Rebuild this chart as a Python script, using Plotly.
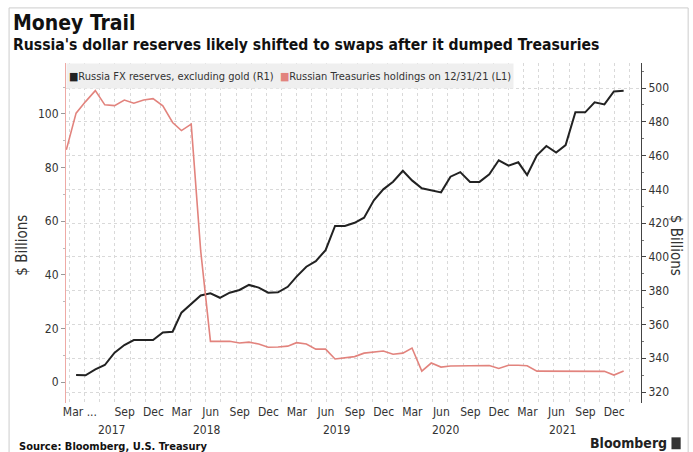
import pandas as pd
import plotly.graph_objects as go

# ---------------- data ----------------
# Russia FX reserves excluding gold, $bn (right axis, R1), monthly Mar 2017 - Dec 2021
fx_start = "2017-03-01"
fx_reserves = [
    330.1, 329.9, 333.4, 336.0, 343.3, 347.8, 350.8, 350.8, 350.8, 355.3,   # Mar-Dec 2017
    355.7, 367.0, 371.9, 377.2, 378.4, 375.8, 378.8, 380.4, 383.4, 381.8, 378.8, 379.0,  # 2018
    382.3, 388.3, 394.2, 397.5, 404.0, 418.3, 418.3, 420.2, 423.2, 433.5, 440.0, 444.5,  # 2019
    451.0, 445.3, 440.6, 439.4, 438.2, 447.5, 450.2, 444.4, 444.4, 448.9, 457.2, 454.0,  # 2020
    456.0, 448.5, 460.1, 465.7, 461.8, 466.2, 485.6, 485.6, 491.5, 490.3, 498.0, 498.3,  # 2021
]

# Russian holdings of US Treasuries, $bn (left axis, L1), monthly Feb 2017 - Dec 2021
ust_start = "2017-02-01"
ust_holdings = [
    86.6, 100.3, 104.6, 108.7, 103.4, 103.1, 105.2, 104.0, 105.2, 105.7, 103.0,  # Feb-Dec 2017
    96.8, 93.8, 96.2, 49.0, 15.2, 15.2, 15.2, 14.6, 14.9, 14.2, 13.0, 13.1,       # 2018
    13.4, 14.7, 14.2, 12.3, 12.3, 8.6, 9.0, 9.5, 10.8, 11.2, 11.6, 10.4,          # 2019
    10.8, 12.7, 4.1, 7.1, 5.6, 6.0, 6.0, 6.0, 6.1, 6.2, 5.1, 6.3,                 # 2020
    6.3, 6.1, 4.1, 4.1, 4.1, 4.1, 4.1, 4.1, 4.1, 4.0, 2.6, 4.1,                   # 2021
]

fx_name = "Russia FX reserves, excluding gold (R1)"
ust_name = "Russian Treasuries holdings on 12/31/21 (L1)"

tick_vals = ["2017-04-12", "2017-09-01", "2017-12-01", "2018-03-01", "2018-06-01",
             "2018-09-01", "2018-12-01", "2019-03-01", "2019-06-01", "2019-09-01",
             "2019-12-01", "2020-03-01", "2020-06-01", "2020-09-01", "2020-12-01",
             "2021-03-01", "2021-06-01", "2021-09-01", "2021-12-01"]
tick_text = ["Mar ...", "Sep", "Dec", "Mar", "Jun", "Sep", "Dec", "Mar", "Jun", "Sep",
             "Dec", "Mar", "Jun", "Sep", "Dec", "Mar", "Jun", "Sep", "Dec"]
year_labels = ["2017", "2018", "2019", "2020", "2021"]
year_pos = ["2017-07-20", "2018-05-20", "2019-07-05", "2020-06-15", "2021-06-20"]

left_ticks = [0, 20, 40, 60, 80, 100]
right_ticks = [320, 340, 360, 380, 400, 420, 440, 460, 480, 500]

# ---------------- figure ----------------
def month_ends(start, n):
    return pd.date_range(start, periods=n, freq="MS") + pd.offsets.MonthEnd(0)

fx_dates = month_ends(fx_start, len(fx_reserves))
ust_dates = month_ends(ust_start, len(ust_holdings))

FONT = "DejaVu Sans Condensed, Liberation Sans Narrow, DejaVu Sans, sans-serif"
RED = "#e2837d"
BLACK = "#222222"

fig = go.Figure()
fig.add_trace(go.Scatter(x=fx_dates, y=fx_reserves, name=fx_name, mode="lines",
                         line=dict(color=BLACK, width=2), yaxis="y", showlegend=False))
fig.add_trace(go.Scatter(x=ust_dates, y=ust_holdings, name=ust_name, mode="lines",
                         line=dict(color=RED, width=1.6), yaxis="y2", showlegend=False))

grid_minor = dict(showgrid=True, gridcolor="#d9d9d9", griddash="dot", gridwidth=1,
                  tickmode="linear", tick0="2017-03-10", dtick=48 * 86400000, ticks="")

fig.update_layout(
    width=693, height=452,
    margin=dict(l=66, r=52, t=63, b=49),
    paper_bgcolor="white", plot_bgcolor="white",
    font=dict(family=FONT, size=12, color="#333"),
    xaxis=dict(type="date", range=["2017-02-27", "2022-02-24"],
               tickmode="array", tickvals=tick_vals, ticktext=tick_text,
               showgrid=False, ticks="", showline=False, zeroline=False,
               tickfont=dict(size=12, color="#333"), minor=grid_minor),
    yaxis=dict(side="right", range=[313.5, 514.8], tickmode="array", tickvals=right_ticks,
               showgrid=True, gridcolor="#d9d9d9", griddash="dot", zeroline=False,
               showline=True, linecolor="#444", linewidth=1, ticks="outside", ticklen=4,
               tickcolor="#444", tickfont=dict(size=12, color="#333"),
               minor=dict(dtick=10, ticks="outside", ticklen=2, tickcolor="#777", showgrid=False)),
    yaxis2=dict(side="left", overlaying="y", range=[-7.8, 119], tickmode="array",
                tickvals=left_ticks, showgrid=False, zeroline=False,
                showline=True, linecolor="#eeaaa5", linewidth=1, ticks="outside", ticklen=4,
                tickcolor="#999", tickfont=dict(size=12, color="#333"),
                minor=dict(dtick=10, ticks="outside", ticklen=2, tickcolor="#bbb", showgrid=False)),
    showlegend=False,
)

anns = []
anns.append(dict(text="<b>Money Trail</b>", xref="paper", yref="paper", x=-0.096, y=1.118,
                 xanchor="left", yanchor="middle", showarrow=False,
                 font=dict(size=21, color="#111", family=FONT)))
anns.append(dict(text="<b>Russia's dollar reserves likely shifted to swaps after it dumped Treasuries</b>",
                 xref="paper", yref="paper", x=-0.096, y=1.053, xanchor="left", yanchor="middle",
                 showarrow=False, font=dict(size=15.6, color="#111", family=FONT)))
anns.append(dict(text=("<span style='color:%s'>■</span>%s  <span style='color:%s'>■</span>%s"
                       % (BLACK, fx_name, RED, ust_name)),
                 xref="paper", yref="paper", x=0, y=1, xanchor="left", yanchor="top",
                 showarrow=False, bgcolor="#efefef", width=442, height=20, align="left",
                 borderpad=2, font=dict(size=11, color="#333", family=FONT)))
anns.append(dict(text="$ Billions", xref="paper", yref="paper", x=-0.077, y=0.465,
                 xanchor="center", yanchor="middle",
                 textangle=-90, showarrow=False, font=dict(size=15, color="#333", family=FONT)))
anns.append(dict(text="$ Billions", xref="paper", yref="paper", x=1.061, y=0.465,
                 xanchor="center", yanchor="middle",
                 textangle=90, showarrow=False, font=dict(size=15, color="#333", family=FONT)))
for lab, pos in zip(year_labels, year_pos):
    anns.append(dict(text=lab, xref="x", yref="paper", x=pos, y=-0.08, yanchor="middle",
                     showarrow=False, font=dict(size=12, color="#333", family=FONT)))
anns.append(dict(text="<b>Source: Bloomberg, U.S. Treasury</b>", xref="paper", yref="paper",
                 x=-0.086, y=-0.127, xanchor="left", yanchor="middle", showarrow=False,
                 font=dict(size=11, color="#111", family=FONT)))
anns.append(dict(text="<b>Bloomberg</b>", xref="paper", yref="paper", x=1.049, y=-0.118,
                 xanchor="right", yanchor="middle", showarrow=False,
                 font=dict(size=14, color="#222", family=FONT)))
fig.update_layout(annotations=anns)

fig.add_shape(type="rect", xref="paper", yref="paper", x0=1.053, x1=1.069, y0=-0.136, y1=-0.101,
              fillcolor="#333", line=dict(width=0))
fig.add_shape(type="rect", xref="paper", yref="paper", x0=-0.099, x1=1.082, y0=-0.2, y1=1.162,
              line=dict(color="#cccccc", width=1), fillcolor="rgba(0,0,0,0)", layer="below")

fig.write_html("out.html", config={"displayModeBar": False},
               post_script="document.body.style.margin='0';document.body.style.overflow='hidden';")
